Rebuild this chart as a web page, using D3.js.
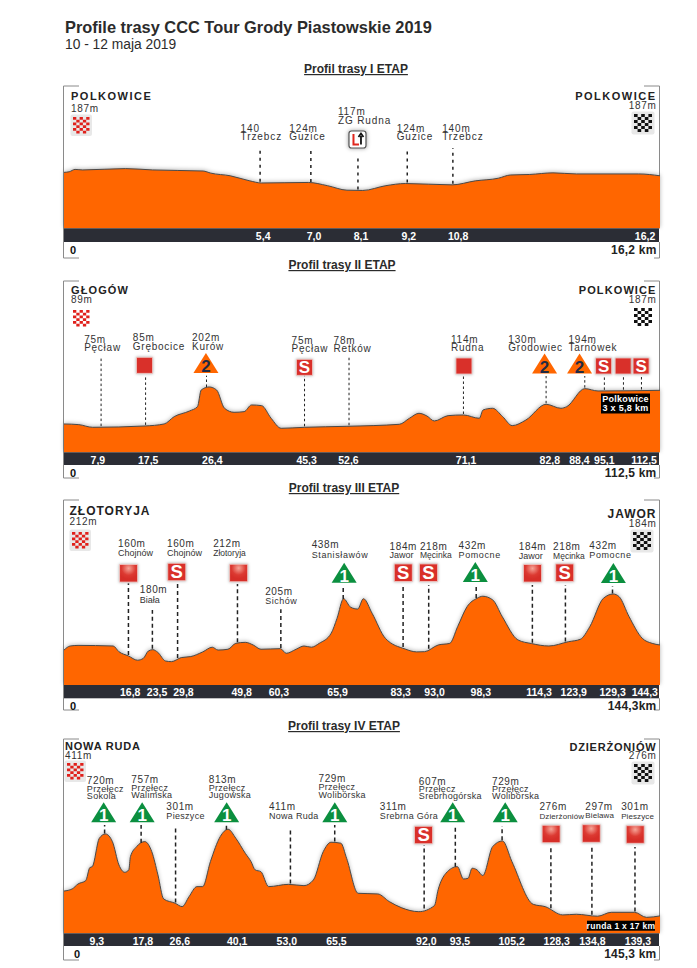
<!DOCTYPE html>
<html>
<head>
<meta charset="utf-8">
<script src="https://cdn.jsdelivr.net/npm/d3@7"></script>
<style>
  body { margin: 0; background: #fff; }
  text { font-family: "Liberation Sans", Arial, sans-serif; }
</style>
</head>
<body>
<svg id="chart" width="697" height="968"></svg>
<script>
// stage I
const stage1Km = [0,0.14,0.3,0.51,1.67,2.41,3.78,3.99,4.52,5.05,5.37,6.64,7.16,7.69,8.12,8.75,9.28,10.55,11.18,11.81,12.13,12.66,13.29,13.93,15.62,16.2]
const stage1Elev = [187,189,198,196,201,196,192,184,174,155,147,149,137,120,119,137,145,140,155,165,177,179,185,181,181,174]
const stage1MarkKm = [5.33,6.71,7.99,9.33,10.57]
const stage1MarkText = [["140","Trzebcz"],["124m","Guzice"],["117m","ZG Rudna"],["124m","Guzice"],["140m","Trzebcz"]]
const stage1MarkIcon = ["","","turn","",""]
const stage1TickKm = [5.4,6.78,8.06,9.36,10.7,15.78]
const stage1TickText = ["5,4","7,0","8,1","9,2","10,8","16,2"]

// stage II
const stage2Km = [0,2.8,5.4,15.3,18.9,20.8,23.7,25.2,25.9,27.4,28.8,30.3,32.1,34,35.4,37.3,39.1,41,45.4,53.4,63.3,65.2,67,68.5,69.9,72.5,75.4,78.4,79.1,80.9,82.8,84.6,87.2,91,93.8,94.9,98.3,100.8,112.5]
const stage2Elev = [85,83,75,79,85,107,124,137,187,196,187,132,120,122,142,140,102,72,75,78,84,102,117,109,94,110,112,102,127,132,107,80,97,144,132,137,191,184,186]
const stage2MarkKm = [7,15.4,26.9,45.4,53.8,75.4,91,98.3,102,105.6,109]
const stage2MarkText = [["75m","Pęcław"],["85m","Grębocice"],["202m","Kurów"],["75m","Pęcław"],["78m","Retków"],["114m","Rudna"],["130m","Grodowiec"],["194m","Tarnówek"],[],[],[]]
const stage2MarkIcon = ["","plain","cat2","S","","plain","cat2","cat2","S","plain","S"]
const stage2TickKm = [6.3,15.8,27.9,45.7,53.6,75.8,91.6,97.2,101.9,109.4]
const stage2TickText = ["7,9","17,5","26,4","45,3","52,6","71,1","82,8","88,4","95,1","112,5"]

// stage III
const stage3Km = [0,1.5,3.4,11.9,13.3,15.6,17.8,19.2,20.4,21.5,22.7,24.6,26,28.4,30.7,33.6,35.9,37.3,39.7,41.6,43.9,45.8,47.7,52.4,53.8,56.2,58.1,59.9,61.8,64.7,66.1,67.7,69.4,71.1,72.5,74.6,77.8,82.6,85.4,87.3,90.6,93.4,95.3,97.6,100,101.4,103.8,106.1,109.9,113.2,117.4,122.1,125,127.3,130.6,133,134.4,136.8,140,142.4,144.3]
const stage3Elev = [156,176,179,176,148,127,106,115,151,158,145,102,99,119,124,147,170,156,160,189,194,181,160,163,140,160,176,170,189,239,312,409,367,358,409,337,214,161,147,148,181,189,271,370,411,421,403,321,206,188,176,197,209,271,411,432,419,321,214,189,181]
const stage3MarkKm = [15.6,21.4,27.5,42,52.5,67.6,82.1,88.3,99.8,113.4,121.4,132.8]
const stage3MarkText = [["160m","Chojnów"],["180m","Biała"],["160m","Chojnów"],["212m","Złotoryja"],["205m","Sichów"],["438m","Stanisławów"],["184m","Jawor"],["218m","Męcinka"],["432m","Pomocne"],["184m","Jawor"],["218m","Męcinka"],["432m","Pomocne"]]
const stage3MarkIcon = ["plain","","S","plain","","cat1","S","S","cat1","plain","S","cat1"]
const stage3TickKm = [15.9,22.4,28.8,42.9,51.9,66.1,81.4,89.6,100.8,114.9,123.3,132.7,140.5]
const stage3TickText = ["16,8","23,5","29,8","49,8","60,3","65,9","83,3","93,0","98,3","114,3","123,9","129,3","144,3"]

// stage IV
const stage4Km = [0,2,3.4,5.3,6.3,6.9,8.6,10.1,11.8,13.4,14.8,15.8,16.2,17.7,19.7,21.4,22.9,24.3,27.1,28.8,30.5,32.4,33.8,35.7,38.1,40,41.9,44.2,45.6,46.6,48,49.9,54.7,58.5,60.8,63.2,65.1,67.5,68.9,71.7,76.5,79.3,82.2,86.5,90.3,91.2,93.1,95.9,97.4,98.5,99.5,100.7,102.1,104.5,106.9,109.2,114.4,117.3,121.6,124.9,130.1,133.4,139.1,142,145.3]
const stage4Elev = [434,447,477,498,578,584,758,785,738,594,549,564,646,707,738,676,533,385,359,338,400,461,461,615,769,814,758,666,615,564,553,461,475,467,502,676,734,728,635,420,416,369,332,307,344,441,543,584,508,512,574,564,529,707,742,615,352,338,287,291,279,303,303,272,281]
const stage4MarkKm = [9.9,18.8,27.2,39.6,55.2,66,87.8,95.4,106.8,118.7,128.7,139.2]
const stage4MarkText = [["720m","Przełęcz","Sokola"],["757m","Przełęcz","Walimska"],["301m","Pieszyce"],["813m","Przełęcz","Jugowska"],["411m","Nowa Ruda"],["729m","Przełęcz","Wolibórska"],["311m","Srebrna Góra"],["607m","Przełęcz","Srebrnogórska"],["729m","Przełęcz","Wolibórska"],["276m","Dzierżoniów"],["297m","Bielawa"],["301m","Pieszyce"]]
const stage4MarkIcon = ["cat1","cat1","","cat1","","cat1","S","cat1","cat1","plain","plain","plain"]
const stage4TickKm = [7.9,19.1,28.1,42.1,54.2,66.3,88.2,96.4,109,120,128.7,139.8]
const stage4TickText = ["9,3","17,8","26,6","40,1","53,0","65,5","92,0","93,5","105,2","128,3","134,8","139,3"]

// font size and letter spacing of the place names on stage III, they differ
const stage3Fit = { "Chojnów": [9, 0], "Złotoryja": [8.5, 0], "Biała": [9, 0], "Sichów": [9, 0.5], "Stanisławów": [9, 0.6], "Jawor": [9, 0], "Męcinka": [8.5, 0], "Pomocne": [9, 0.6] }

// layout below, one row per marker: label left, label baselines, top of stem, icon x, icon y
const stages = [
  {
    title: "Profil trasy I ETAP", titleX: 356, titleY: 73, top: 86, base: 228.3, barEnd: 242, bottom: 258,
    elev: [-23, 511], km: stage1Km, alt: stage1Elev, markKm: stage1MarkKm, markText: stage1MarkText, markIcon: stage1MarkIcon,
    tickKm: stage1TickKm, tickText: stage1TickText,
    from: "POLKOWICE", fromAlt: "187m", to: "POLKOWICE", toAlt: "187m", total: "16,2 km", zeroX: 70,
    fromY: [100, 111.5], toY: [100, 109], fromX: 71, flagL: [73, 117], flagR: [634, 114], soft: true,
    dash: "3,4", dashW: 1.5, nameSize: 11, nameGap: 1.5, gap: 0.9, fit: () => [10, 0.9],
    rows: [
      [241.5,[132,140],148],[290.4,[132,140],148],[339.3,[115,123.5],155,359,139.5],[398.4,[132,140],148],[444.1,[132,140],148]
    ]
  },
  {
    title: "Profil trasy II ETAP", titleX: 342, titleY: 269, top: 281, base: 452.3, barEnd: 465, bottom: 478,
    elev: [0, 514], km: stage2Km, alt: stage2Elev, markKm: stage2MarkKm, markText: stage2MarkText, markIcon: stage2MarkIcon,
    tickKm: stage2TickKm, tickText: stage2TickText,
    from: "GŁOGÓW", fromAlt: "89m", to: "POLKOWICE", toAlt: "187m", total: "112,5 km", zeroX: 70,
    fromY: [293.5, 303], toY: [293.5, 303], fromX: 71, flagL: [73, 310], flagR: [634, 308], soft: false,
    dash: "2.5,2.5", dashW: 1, nameSize: 11, nameGap: 1.1, gap: 0.8, fit: () => [10, 0.75],
    box: [601, 393.5, 49, 20, "Polkowice", "3 x 5,8 km"],
    rows: [
      [84.3,[343,351],356.7],[133.2,[341,350],375.7,145,365.3],[192.7,[341,350],375.7,206.7,363],
      [292.8,[344,352],375,305.7,367.3],[335,[344,352],356.7],[453,[343,351],376,466,366],
      [510.6,[343,351],376,547,363.5],[571,[343,351],376,582.2,363.5],[0,[],376,606.4,366],[0,[],376,626,366],[0,[],376,644,366]
    ]
  },
  {
    title: "Profil trasy III ETAP", titleX: 344, titleY: 492, top: 500, base: 685, barEnd: 698.3, bottom: 710,
    elev: [-16, 895], km: stage3Km, alt: stage3Elev, markKm: stage3MarkKm, markText: stage3MarkText, markIcon: stage3MarkIcon,
    tickKm: stage3TickKm, tickText: stage3TickText,
    from: "ZŁOTORYJA", fromAlt: "212m", to: "JAWOR", toAlt: "184m", total: "144,3km", zeroX: 70,
    fromY: [514.5, 525], toY: [517.5, 526.5], fromX: 69.5, flagL: [72, 532], flagR: [633, 532], soft: true,
    dash: "4,3", dashW: 1.5, nameSize: 12, nameGap: 1, gap: 0.6, fit: t => stage3Fit[t] || [9, 0.3],
    rows: [
      [118.4,[546.7,556],583.3,129,573.3],[140.3,[593.3,602.7],610],[167.6,[546.7,556],583.3,177.4,572],
      [214,[546.7,556],584,239.6,573],[266.2,[595,604],609.3],[313,[548.3,557.7],585.3,345.6,572.7],
      [391.3,[550,558.3],585,405,572.7],[421.8,[550,558.3],585,430.4,572.7],[460.6,[549,558],584,477.4,572],
      [521.2,[550.3,559.3],585,534.9,573.3],[555.6,[549.7,558.7],585,567.3,572.7],[592,[549,558],586,616.2,573]
    ]
  },
  {
    title: "Profil trasy IV ETAP", titleX: 344, titleY: 730, top: 739, base: 933.3, barEnd: 946, bottom: 960,
    elev: [174, 1369], km: stage4Km, alt: stage4Elev, markKm: stage4MarkKm, markText: stage4MarkText, markIcon: stage4MarkIcon,
    tickKm: stage4TickKm, tickText: stage4TickText,
    from: "NOWA RUDA", fromAlt: "411m", to: "DZIERŻONIÓW", toAlt: "276m", total: "145,3 km", zeroX: 74,
    fromY: [750, 759], toY: [751, 759], fromX: 65, flagL: [67, 763], flagR: [634, 764], soft: true,
    dash: "4,3", dashW: 1.5, nameSize: 11, nameGap: 0.8, gap: 0.6, fit: (t, i) => i >= 9 ? [8, 0.1] : [9, 0.3],
    box: [587, 920.7, 68, 10, "runda 1 x 17 km"],
    rows: [
      [87,[783.7,791.7,798.7],825,103.9,812.3],[131.7,[783.3,791.3,798.3],825,142.6,812.3],[166.9,[810,819],828.3],
      [209.5,[783.3,791.3,798.3],825,227.5,812.3],[270,[810,819],828.3],[319.8,[782.3,790.3,798],825,336.2,812.3],
      [381.5,[810,819],845,425.4,835],[420.7,[785.3,791.7,798.7],826.7,454.7,812.3],[494.2,[785.3,791.7,798.7],826,507.5,812.3],
      [541.9,[810,818.5],846.7,553.6,834],[588,[810,818],846,593.9,833.5],[624,[810,818.5],847,638.1,834.5]
    ]
  }
]

const ORANGE = "#ff6600", DARK = "#2b2d35", RED = "#d9302a", GREEN = "#0b8f3f", INK = "#333"
const LEFT = 64, RIGHT = 660
// the layout numbers were read a little too wide, pull them in towards the left edge
const layout_x = v => 55 + (v - 55) * 0.995

d3.selection.prototype.set = function(o) {
  Object.keys(o).forEach(k => this.attr(k, o[k]))
  return this
}

const svg = d3.select("#chart")

const gloss = svg.append("defs").append("radialGradient").attr("id", "gloss")
  .attr("cx", "50%").attr("cy", "22%").attr("r", "60%")
gloss.append("stop").attr("offset", "0%").attr("stop-color", "#f6a598")
gloss.append("stop").attr("offset", "65%").attr("stop-color", "#dc3a32")
gloss.append("stop").attr("offset", "100%").attr("stop-color", "#d62e28")

svg.append("text").set({ x: 65, y: 33, "font-size": 16.4, "font-weight": "bold", fill: "#2b2b2b" })
  .text("Profile trasy CCC Tour Grody Piastowskie 2019")
svg.append("text").set({ x: 65, y: 49, "font-size": 13.8, fill: "#2b2b2b" })
  .text("10 - 12 maja 2019")

function draw_checker(g, x, y, color, soft, cw, ch) {
  if (soft) {
    g.append("rect").set({ x: x - 2.5, y: y - 2.5, width: cw * 5 + 5, height: ch * 6 + 5, rx: 2, fill: "#e8e8e8" })
  }
  d3.range(6).forEach(r => d3.range(5).forEach(c => {
    if ((r + c) % 2 == 0)
      g.append("rect").set({ x: x + c * cw, y: y + r * ch, width: cw, height: ch, fill: color })
  }))
}

function draw_icon(g, type, x, y, soft) {
  const ig = g.append("g").attr("transform", `translate(${x},${y})`)
  if (type == "plain" || type == "S") {
    const w = soft ? 18 : 16, h = soft ? 17.5 : 16
    ig.append("rect").set({
      x: -w / 2, y: -h / 2, width: w, height: h,
      fill: soft && type == "plain" ? "url(#gloss)" : RED,
      stroke: "#f3c9c5", "stroke-width": 0.8
    }).style("filter", "drop-shadow(0 0 1.5px #aaa)")
    if (type == "S") {
      ig.append("text").set({ y: h * 0.37, "text-anchor": "middle", "font-size": h + 1, "font-weight": "bold", fill: "#fff" }).text("S")
    }
  } else if (type == "cat1" || type == "cat2") {
    const w = 25, h = 20
    ig.append("path").attr("d", `M0,${-h / 2}L${w / 2},${h / 2}L${-w / 2},${h / 2}Z`)
      .attr("fill", type == "cat1" ? GREEN : ORANGE)
    ig.append("text").set({
      y: h / 2 - 1, "text-anchor": "middle", "font-size": 17, "font-weight": "bold",
      fill: type == "cat1" ? "#fff" : "#1f2a44"
    }).text(type == "cat1" ? "1" : "2")
  } else if (type == "turn") {
    ig.append("rect").set({ x: -8.5, y: -8.5, width: 17, height: 17, rx: 2.5, fill: "#fff", stroke: "#555", "stroke-width": 1.2 })
      .style("filter", "drop-shadow(0 0 2px #999)")
    ig.append("path").attr("d", "M-4,-5.5V5H1.5").set({ fill: "none", stroke: "#e0261d", "stroke-width": 2 })
    ig.append("path").attr("d", "M3.5,5V-3.5M1,-2.5L3.5,-6L6,-2.5").set({ fill: "none", stroke: "#111", "stroke-width": 1.8 })
  }
}

function draw_stage(s) {
  const g = svg.append("g")
  const x = d3.scaleLinear().domain([0, d3.max(s.km)]).range([LEFT, RIGHT])
  const y = d3.scaleLinear().domain(s.elev).range([s.base, s.top])
  const profile = s.km.map((d, i) => ({ km: d, alt: s.alt[i] }))
  const curve = d3.curveMonotoneX

  // heading
  g.append("text").set({
    x: s.titleX, y: s.titleY, "text-anchor": "middle", "font-size": 12, "font-weight": "bold",
    fill: "#2b2b2b", "text-decoration": "underline"
  }).text(s.title)

  // corner brackets
  const bracket = "#8a8a8a"
  g.append("path").attr("d", `M${LEFT + 15},${s.top}H${LEFT - 0.5}V${s.bottom}H${LEFT + 15}`)
    .set({ fill: "none", stroke: bracket, "stroke-width": 1 })
  g.append("path").attr("d", `M${RIGHT - 16},${s.top}H${RIGHT - 0.5}V${s.base}M${RIGHT - 0.5},${s.barEnd}V${s.bottom}H${RIGHT - 6}`)
    .set({ fill: "none", stroke: bracket, "stroke-width": 1 })

  // the profile
  const area = d3.area().x(d => x(d.km)).y0(s.base).y1(d => y(d.alt)).curve(curve)
  const line = d3.line().x(d => x(d.km)).y(d => y(d.alt)).curve(curve)
  g.append("path").datum(profile).attr("d", area).attr("fill", ORANGE)
    .style("filter", "drop-shadow(0 -1px 2px rgba(0,0,0,.3))")
  g.append("path").datum(profile).attr("d", line).set({ fill: "none", stroke: "#4a4a4a", "stroke-width": 1 })

  // stems, labels and icons
  const bis = d3.bisector(d => d.km).left
  const alt_at = km => {
    const i = Math.max(1, bis(profile, km))
    const a = profile[i - 1], b = profile[i]
    return a.alt + (b.alt - a.alt) * (km - a.km) / (b.km - a.km)
  }
  s.markKm.forEach((km, i) => {
    const row = s.rows[i]
    g.append("line").set({
      x1: x(km), x2: x(km), y1: y(alt_at(km)) - 1, y2: row[2],
      stroke: "#222", "stroke-width": s.dashW, "stroke-dasharray": s.dash
    })
    s.markText[i].forEach((t, j) => {
      const f = j == 0 ? [10, s.gap] : s.fit(t, i)
      g.append("text").set({
        x: layout_x(row[0]), y: row[1][j], fill: INK,
        "font-size": f[0], "letter-spacing": f[1]
      }).text(t)
    })
    if (s.markIcon[i]) draw_icon(g, s.markIcon[i], layout_x(row[3]), row[4], s.soft)
  })

  // dark km bar
  g.append("rect").set({ x: LEFT, y: s.base, width: RIGHT - LEFT - 1, height: s.barEnd - s.base, fill: DARK })
  const axis = d3.axisBottom(x).tickValues(s.tickKm).tickFormat((d, i) => s.tickText[i]).tickSize(0).tickPadding(3.8)
  const ax = g.append("g").attr("transform", `translate(0,${s.base})`).call(axis)
  ax.select(".domain").remove()
  ax.selectAll("text").set({ fill: "#fff", "font-size": 10.5, "font-weight": "bold" })
    .style("font-family", '"Liberation Sans", Arial, sans-serif')

  // km under the bar
  g.append("text").set({ x: s.zeroX, y: s.barEnd + 11.5, "font-size": 11, "font-weight": "bold", fill: "#111" }).text("0")
  g.append("text").set({ x: 656.5, y: s.barEnd + 11.5, "text-anchor": "end", "font-size": 12, "font-weight": "bold", "letter-spacing": 0.2, fill: "#222" }).text(s.total)

  // start and finish
  g.append("text").set({ x: s.fromX, y: s.fromY[0], "font-size": s.nameSize, "font-weight": "bold", "letter-spacing": s.nameGap, fill: "#222" }).text(s.from)
  g.append("text").set({ x: s.fromX, y: s.fromY[1], "font-size": 10, "letter-spacing": 0.7, fill: INK }).text(s.fromAlt)
  g.append("text").set({ x: 656.5, y: s.toY[0], "text-anchor": "end", "font-size": s.nameSize, "font-weight": "bold", "letter-spacing": s.nameGap, fill: "#222" }).text(s.to)
  g.append("text").set({ x: 656.5, y: s.toY[1], "text-anchor": "end", "font-size": 10, "letter-spacing": 0.7, fill: INK }).text(s.toAlt)
  draw_checker(g, s.flagL[0], s.flagL[1], "#e0201b", s.soft, 3.3, 2.75)
  draw_checker(g, s.flagR[0], s.flagR[1], "#111", s.soft, 3.6, 3)

  // black lap box
  if (s.box) {
    const b = s.box
    g.append("rect").set({ x: b[0], y: b[1], width: b[2], height: b[3], fill: "#000" })
    const lines = b.slice(4)
    lines.forEach((t, i) => {
      g.append("text").set({
        x: b[0] + b[2] / 2, y: lines.length == 1 ? b[1] + 8 : b[1] + 8.5 + i * 9,
        "text-anchor": "middle", "font-size": lines.length == 1 ? 8.5 : 9, "font-weight": "bold", "letter-spacing": 0.3, fill: "#fff"
      }).text(t)
    })
  }
}

stages.forEach(draw_stage)
</script>
</body>
</html>
